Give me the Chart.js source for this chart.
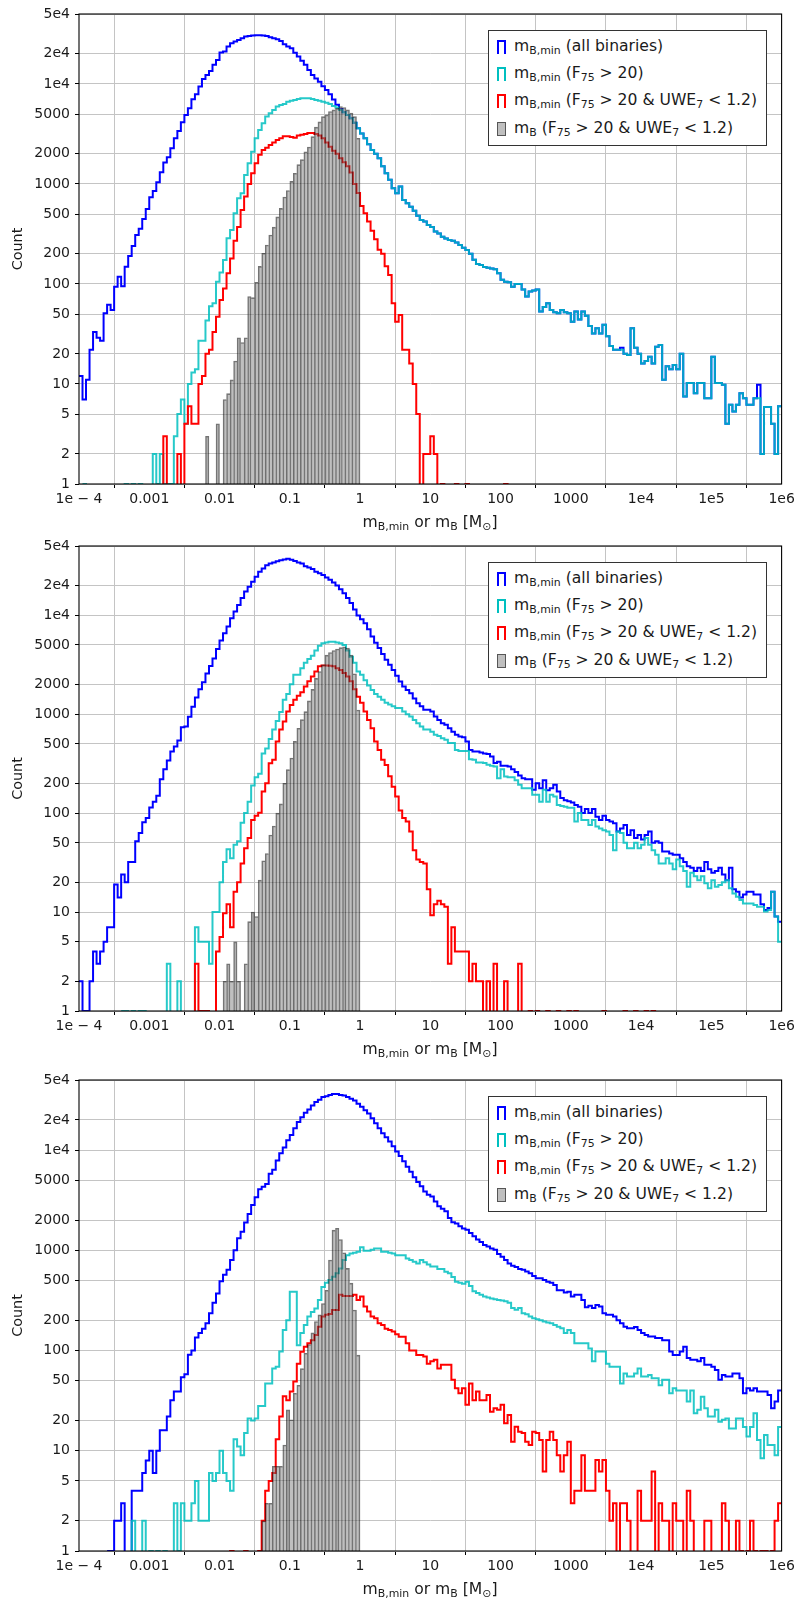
<!DOCTYPE html>
<html><head><meta charset="utf-8">
<script src="https://cdn.jsdelivr.net/npm/chart.js@4.4.1/dist/chart.umd.min.js"></script>
<style>
html,body{margin:0;padding:0;background:#fff;}
body{width:798px;height:1603px;position:relative;overflow:hidden;font-family:"DejaVu Sans",sans-serif;color:#1a1a1a;}
.panel{position:absolute;left:0;width:798px;}
.legend{position:absolute;left:488px;width:277px;height:114px;border:1px solid #333;background:#fff;font-size:15.6px;}
.row{position:absolute;left:0;width:277px;height:27px;line-height:27px;white-space:nowrap;}
.hstep{position:absolute;left:8px;top:7px;width:9px;height:14px;box-sizing:border-box;border:2px solid;border-bottom:none;}
.hbar{position:absolute;left:8px;top:7px;width:9px;height:14px;box-sizing:border-box;border:1px solid rgba(0,0,0,0.55);background:rgba(128,128,128,0.5);}
.txt{position:absolute;left:25px;top:0;}
sub{font-size:70%;vertical-align:-0.28em;line-height:0;}
.xlabel{position:absolute;left:230px;width:400px;text-align:center;font-size:15.6px;line-height:20px;}
</style></head>
<body>
<script>
const _ = null;
const X_TICKS = [1e-4, 1e-3, 0.01, 0.1, 1, 10, 100, 1000, 1e4, 1e5, 1e6];
const X_TICK_LABELS = ['1e \u2212 4','0.001','0.01','0.1','1','10','100','1000','1e4','1e5','1e6'];
const Y_TICKS = [1,2,5,10,20,50,100,200,500,1000,2000,5000,1e4,2e4,5e4];
const Y_TICK_LABELS = ['1','2','5','10','20','50','100','200','500','1000','2000','5000','1e4','2e4','5e4'];
const BIN_LOG_START = -4, BINS_PER_DECADE = 20, N_BINS = 200;
const SERIES_NAMES = [
  'm<sub>B,min</sub> (all binaries)',
  'm<sub>B,min</sub> (F<sub>75</sub> &gt; 20)',
  'm<sub>B,min</sub> (F<sub>75</sub> &gt; 20 &amp; UWE<sub>7</sub> &lt; 1.2)',
  'm<sub>B</sub> (F<sub>75</sub> &gt; 20 &amp; UWE<sub>7</sub> &lt; 1.2)'
];
const X_TITLE = 'm<sub>B,min</sub> or m<sub>B</sub> [M<sub>\u2299</sub>]';
const Y_TITLE = 'Count';

// ---------- Panel 1 ----------
const P1_BLUE = [
12,7,11,22,33,29,27,51,62,55,94,118,95,149,190,240,309,357,447,562,
736,851,1040,1309,1635,1849,2274,2862,3388,4140,4898,5711,7030,7880,9400,11220,12300,13490,15500,17380,
20570,21050,23610,25500,26500,27540,28620,29730,30200,30500,30700,30700,30500,30200,29240,28600,27990,26900,24860,23610,
22700,20500,18800,17000,15500,13800,12300,11300,10500,9500,8710,7900,7000,6200,5600,5200,4900,4540,4100,3600,
3200,2860,2500,2190,2000,1810,1500,1280,1100,905,807,940,692,640,593,540,480,437,420,389,
370,334,320,297,285,275,270,260,245,230,219,200,175,158,155,148,145,143,140,128,
110,105,104,94,100,100,88,75,84,86,88,53,59,64,55,52,51,55,52,51,
42,53,44,53,48,38,32,36,32,39,30,24,22,22,23,20,19.5,36,23,20,
16,17,18.7,16,23.6,24.5,11,15,14,15.5,14,20,7.5,10.2,10.2,8.1,10.2,10.2,7.2,7.2,
18.7,10.2,10.2,9.8,4,6.2,5.3,6.2,8.1,7.2,6.2,6.2,7.2,9.8,2,5.9,5.9,4,2,6];
const P1_CYAN = [
_,1,0,0,0,0,0,0,0,0,0,0,0,1,0,1,0,1,0,0,
0,2,1,2,1,1,1,3,5,7,4,10,13,14,27,27,43,60,64,105,
130,174,286,347,509,719,807,1230,1610,2100,2860,3470,4040,4710,5100,5500,5950,6170,6300,6650,
6800,6900,7060,7170,7170,7170,7060,6900,6800,6650,6500,6300,6000,5800,5500,5200,4900,4540,4100,3600,
3200,2860,2500,2190,2000,1810,1500,1280,1100,905,807,940,692,640,593,540,480,437,420,389,
370,334,320,297,285,275,270,260,245,230,219,200,175,158,155,148,145,143,140,128,
110,105,104,94,100,100,88,75,84,86,88,53,59,64,55,52,51,55,52,51,
42,53,44,53,48,38,32,36,32,39,30,24,22,22,22,20,19.5,36,23,20,
16,17,18.7,16,23.6,24.5,11,15,14,15.5,14,20,7.5,10.2,10.2,8.1,10.2,10.2,7.2,7.2,
18.7,10.2,10.2,9.8,4,6.2,5.3,6.2,8.1,7.2,6.2,6.2,7.2,7.2,2,5.9,5.9,4,2,6];
const P1_RED = [
_,_,_,_,_,_,_,_,_,_,_,_,_,_,_,_,_,_,_,_,
_,_,_,0,3,0,0,0,2,0,4,6,4,4,10,12,20,22,33,47,
69,90,128,180,270,370,550,750,1000,1280,1610,1960,2190,2300,2450,2600,2750,2860,3000,3000,
2950,2900,3050,3100,3150,3230,3230,3150,3050,2860,2600,2350,2150,2000,1810,1650,1500,1300,1000,810,
600,510,420,340,280,220,200,150,123,64,42,49,22,22,16,10,5,0,2,2,
3,2,0,1,0,0,0,1,0,0,1,0,0,0,0,0,0,0,0,0,
0,1,0,0,0,0,0,0,0,0,0,0,0,0,0,0,0,0,0,0,
0,0,0,0,1];
const P1_GRAY = [
_,_,_,_,_,_,_,_,_,_,_,_,_,_,_,_,_,_,_,_,
_,_,_,_,_,_,_,_,_,_,_,_,_,_,_,_,3,_,_,4,
_,7,8,11,17,29,26,29,75,73,104,150,203,245,309,370,468,570,740,860,
1060,1280,1560,1750,2100,2340,2970,3700,4170,4710,4900,5290,5500,5700,5950,5800,5500,5100,4710,2860];

// ---------- Panel 2 ----------
const P2_BLUE = [
2,1,1,2,4,3,4,5,7,7,19,14,24,20,32,32,52,63,81,89,
114,130,150,220,277,340,418,470,540,735,750,940,1190,1470,1780,2100,2580,3060,3650,4550,
5540,6560,7700,9330,10900,12700,14900,17300,19400,21800,24400,27500,29700,32000,33200,34000,35000,35800,36600,37200,
36400,35300,34000,33200,31300,30400,29200,27500,26500,25500,24000,22800,21400,20000,18300,16700,14900,13300,11400,9930,
9100,8300,7200,6100,5250,4650,4060,3540,3150,2800,2440,2140,1900,1750,1630,1440,1290,1200,1110,1110,
1060,945,870,810,780,720,665,620,595,585,530,435,418,418,410,400,395,372,320,330,
300,300,295,277,260,240,225,220,220,172,200,178,215,170,178,193,165,142,135,132,
128,121,116,100,110,100,110,92,85,94,85,82,79,65,70,76,60,67,56,60,
54,60,65,50,52,50,41,41,39,38,38,35,32,29,28,26,28,26,32,27,
25,26,28,24,21,28,17,16,14,15,16,16,15,15,12,10.5,11,16,9,8];
const P2_CYAN = [
_,_,_,_,_,_,_,_,_,_,_,_,1,1,0,1,0,1,1,0,
0,0,0,0,0,3,0,0,2,0,0,0,0,7,5,5,5,3,10,10,
20,32,43,35,48,52,80,100,130,190,230,250,400,450,560,700,850,1050,1400,1600,
2000,2500,2500,2900,3300,3600,3900,4400,4900,5200,5300,5400,5400,5300,5200,5000,4400,3800,3300,2700,
2500,2200,1950,1750,1600,1500,1400,1300,1250,1200,1150,1150,1060,1000,945,870,810,750,700,700,
665,620,600,570,550,510,510,435,425,425,425,350,345,325,325,320,308,300,295,225,
277,234,230,230,215,193,178,178,178,153,153,130,172,130,153,147,121,118,116,113,
113,82,100,85,85,76,85,73,70,67,65,60,42,65,63,50,44,44,50,44,
48,56,48,42,38,31,31,35,31,27,34,29,26,18,25,23,21,23,19.5,17.4,
21,18,18.8,20,21,17.4,15.4,14.3,13.2,12.2,12.2,12.2,11.8,11.3,11.3,10.1,10.5,16,9,5];
const P2_RED = [
_,_,_,_,_,_,_,_,_,_,_,_,_,_,_,_,_,_,_,_,
_,_,_,_,_,_,_,_,_,_,_,_,0,3,1,1,1,0,0,4,
5.6,9.7,12,7,16,20,31,44,56,85,94,101,165,200,318,345,530,700,840,1060,
1240,1400,1530,1660,1900,2150,2400,2700,3050,3100,3100,3080,3050,2900,2800,2600,2400,2150,1780,1500,
1300,1060,870,720,530,435,345,307,235,185,147,106,89,82,65,42,34,32,31,17,
9.3,12,13,12,11.3,3,7,4,4,4,4,2,3,2,2,0,2,0,3,0,
0,2,0,0,0,3,0,0,1,0,1,0,0,1,0,0,1,0,0,1,
0,1,0,0,0,0,0,0,0,1,0,0,0,0,0,1,0,0,1,0,
0,1,0,1,0,1];
const P2_GRAY = [
_,_,_,_,_,_,_,_,_,_,_,_,_,_,_,_,_,_,_,_,
_,_,_,_,_,_,_,_,_,_,_,_,_,_,_,_,_,_,_,_,
_,2,3,2,5,2,_,3,8,10,9,21,33,39,60,74,100,124,200,275,
360,530,720,880,1060,1360,1780,2300,2700,3150,3950,4200,4400,4550,4700,4800,4650,3950,2560,1100];

// ---------- Panel 3 ----------
const P3_BLUE = [
_,_,_,_,_,_,_,_,1,1,2,2,3,0,0,4,4,4,6,8,
10,6,10,16,16,22,32,39,39,54,58,91,100,135,150,165,187,235,300,370,
490,570,640,800,1000,1320,1530,1890,2300,2830,3380,4060,4300,4580,5800,6360,7880,9300,10600,12500,
14100,16500,19100,21200,23600,25400,27900,30200,31800,33800,34500,35500,36300,36300,35500,35000,33800,32500,31200,29000,
27000,25000,23200,20800,18500,16500,14700,13400,12200,10900,9700,8700,7750,6830,6060,5370,4800,4350,3870,3590,
3450,3070,2750,2600,2450,2100,1910,1850,1740,1650,1600,1490,1380,1280,1210,1130,1090,1040,1010,920,
860,800,740,700,680,650,640,615,590,555,527,527,505,485,475,450,400,400,380,385,
345,360,360,320,270,280,265,285,275,235,227,227,218,200,187,173,167,167,172,160,
150,143,138,138,133,133,127,127,98,90,90,98,109,84,81,81,78,84,72,72,
69,64,51,57,55,55,59,59,53,37.5,42,40,42,39,39,39,36,26.5,31,40];
const P3_CYAN = [
_,_,_,_,_,_,_,_,_,_,_,_,_,_,0,2,0,0,2,0,
1,0,1,0,1,0,0,3,1,3,2,2,3,5,2,2,2,6,5,6,
10,6,5,4,13,11,9,15,21,20,21,28,28,47,47,66,69,98,160,200,
385,385,113,150,180,218,243,263,320,430,475,505,545,590,660,800,890,930,945,965,
1070,990,990,1015,1040,1040,965,965,945,930,890,890,890,830,800,770,740,800,760,720,
690,690,650,650,610,590,540,485,475,465,485,440,390,375,360,345,338,330,325,320,
315,310,300,265,255,265,235,230,218,210,205,200,195,190,187,180,173,167,150,160,
150,118,118,118,118,105,78,98,98,98,74,69,69,69,47,59,55,55,59,66,
55,55,57,53,53,45,51,51,37.5,42,40,40,40,31,40,23.7,25.6,34.5,26.5,22,
22,25.6,19.5,20.4,21,16.7,16.7,21,21,17.3,13.9,17.3,23.7,12.8,8.4,14.4,11.4,11.4,9,17.3];
const P3_RED = [
_,_,_,_,_,_,_,_,_,_,_,_,_,_,_,_,_,_,_,_,
_,_,_,_,_,_,_,_,_,_,_,_,_,_,_,_,_,_,_,_,
_,_,0,1,0,0,0,1,0,0,0,1,2,4,5,6,13,22,35,32,
39,49,74,97,109,118,127,143,173,218,227,232,254,254,360,350,350,350,360,320,
345,275,245,218,210,187,180,165,160,155,145,137,137,118,100,100,90,90,87,74,
78,81,66,72,72,72,51,42,37.5,42,28.7,47,32,39,32,32,36,24.5,26.5,25.6,
28.7,18.8,22.7,12.3,17.4,15.5,15,12.3,11.4,15.5,15,12.8,6.2,12.8,15.5,12.8,9,6.2,9,12.3,
3,4,4,9,4,4,4,8.1,6.2,8.1,4,2,3,0,3,3,2,0,0,4,
2,2,2,6.2,0,3,2,2,0,3,2,2,0,4,2,0,0,0,2,2,
0,0,0,3,2,0,0,2,1,0,1,2,1,0,1,1,0,1,2,3];
const P3_GRAY = [
_,_,_,_,_,_,_,_,_,_,_,_,_,_,_,_,_,_,_,_,
_,_,_,_,_,_,_,_,_,_,_,_,_,_,_,_,_,_,_,_,
_,_,_,_,_,_,_,_,_,_,_,_,2,3,3,7,7,7,11.4,25.6,
20.4,37.5,45,66,94,115,150,195,227,295,400,800,1590,1660,1280,945,660,470,254,90];

const PANELS = [
  {top: 14, height: 470, blue: P1_BLUE, cyan: P1_CYAN, red: P1_RED, gray: P1_GRAY},
  {top: 546, height: 465, blue: P2_BLUE, cyan: P2_CYAN, red: P2_RED, gray: P2_GRAY},
  {top: 1080, height: 471, blue: P3_BLUE, cyan: P3_CYAN, red: P3_RED, gray: P3_GRAY}
];

const BIN_EDGES = [];
for (let i = 0; i <= N_BINS; i++) BIN_EDGES.push(Math.pow(10, BIN_LOG_START + i / BINS_PER_DECADE));

function stepPoints(vals) {
  const pts = [];
  const show = v => (v === 0 ? 0.5 : v);
  for (let i = 0; i < N_BINS; i++) {
    const v = vals[i] === undefined ? null : vals[i];
    pts.push({x: BIN_EDGES[i], y: v === null ? null : show(v)});
  }
  const last = vals[N_BINS - 1];
  if (last !== undefined && last !== null) pts.push({x: BIN_EDGES[N_BINS], y: show(last)});
  return pts;
}
function barPoints(vals) {
  const pts = [];
  for (let i = 0; i < N_BINS; i++) {
    const v = vals[i];
    if (v !== undefined && v !== null && v > 0) pts.push({x: Math.sqrt(BIN_EDGES[i] * BIN_EDGES[i + 1]), y: v, bin: i});
  }
  return pts;
}

const framePlugin = {
  id: 'frame',
  afterDatasetsDraw(chart) {
    const {ctx, chartArea: a} = chart;
    ctx.save();
    ctx.strokeStyle = '#000';
    ctx.lineWidth = 1.1;
    ctx.strokeRect(a.left, a.top, a.right - a.left, a.bottom - a.top);
    ctx.restore();
  }
};

const FONT = 'DejaVu Sans';
const PAD_TOP = 10, XAXIS_H = 60, YAXIS_W = 79, RIGHT_PAD = 16.4;

PANELS.forEach((p, k) => {
  const div = document.createElement('div');
  div.className = 'panel';
  div.style.top = (p.top - PAD_TOP) + 'px';
  div.style.height = (p.height + PAD_TOP + XAXIS_H) + 'px';
  const cv = document.createElement('canvas');
  cv.width = 798; cv.height = p.height + PAD_TOP + XAXIS_H;
  cv.style.width = '798px'; cv.style.height = cv.height + 'px';
  div.appendChild(cv);
  document.body.appendChild(div);

  const barBorder = (ctx) => {
    const d = ctx.dataset.data, j = ctx.dataIndex, cur = d[j];
    if (!cur) return 0;
    const prev = d[j - 1], next = d[j + 1];
    const pv = prev && prev.bin === cur.bin - 1 ? prev.y : 0;
    const nv = next && next.bin === cur.bin + 1 ? next.y : 0;
    return {top: 1, bottom: 0, left: pv <= cur.y ? 1 : 0, right: nv < cur.y ? 1 : 0};
  };

  new Chart(cv, {
    type: 'line',
    data: {
      datasets: [
        {label: 'blue', data: stepPoints(p.blue), borderColor: '#0000ff', borderWidth: 2, stepped: 'before', pointRadius: 0, order: 3, fill: false, borderJoinStyle: 'miter'},
        {label: 'cyan', data: stepPoints(p.cyan), borderColor: 'rgba(0,191,191,0.85)', borderWidth: 2, stepped: 'before', pointRadius: 0, order: 2, fill: false, borderJoinStyle: 'miter'},
        {label: 'red', data: stepPoints(p.red), borderColor: '#ff0000', borderWidth: 2, stepped: 'before', pointRadius: 0, order: 1, fill: false, borderJoinStyle: 'miter'},
        {type: 'bar', label: 'gray', data: barPoints(p.gray), backgroundColor: 'rgba(128,128,128,0.5)', borderColor: 'rgba(0,0,0,0.55)', borderWidth: barBorder, inflateAmount: 0.3, barPercentage: 1, categoryPercentage: 1, order: 0}
      ]
    },
    options: {
      responsive: false, animation: false, devicePixelRatio: 1,
      layout: {padding: {top: PAD_TOP, right: RIGHT_PAD, left: 0, bottom: 0}},
      plugins: {legend: {display: false}, tooltip: {enabled: false}},
      scales: {
        x: {
          type: 'logarithmic', min: 1e-4, max: 1e6, offset: false,
          afterBuildTicks: s => { s.ticks = X_TICKS.map(v => ({value: v})); },
          afterFit: s => { s.height = XAXIS_H; s.paddingLeft = 0; s.paddingRight = 0; },
          ticks: {autoSkip: false, maxRotation: 0, minRotation: 0, padding: 3, color: '#1a1a1a', font: {family: FONT, size: 14}, callback: (v, i) => X_TICK_LABELS[i]},
          grid: {color: '#c4c4c4', lineWidth: 1, tickColor: '#000', tickLength: 4, tickWidth: 1},
          border: {display: false}
        },
        y: {
          type: 'logarithmic', min: 1, max: 5e4,
          afterBuildTicks: s => { s.ticks = Y_TICKS.map(v => ({value: v})); },
          afterFit: s => { s.width = YAXIS_W; s.paddingTop = 0; s.paddingBottom = 0; },
          ticks: {autoSkip: false, padding: 5, color: '#1a1a1a', font: {family: FONT, size: 14}, callback: (v, i) => Y_TICK_LABELS[i]},
          grid: {color: '#c4c4c4', lineWidth: 1, tickColor: '#000', tickLength: 4, tickWidth: 1},
          border: {display: false},
          title: {display: true, text: Y_TITLE, color: '#1a1a1a', font: {family: FONT, size: 14.4}, padding: {top: 10, bottom: 0}}
        }
      }
    },
    plugins: [framePlugin]
  });

  // legend
  const lg = document.createElement('div');
  lg.className = 'legend';
  lg.style.top = (p.top + 15.5) + 'px';
  const colors = ['#0000ff', '#00bfbf', '#ff0000'];
  SERIES_NAMES.forEach((name, r) => {
    const row = document.createElement('div');
    row.className = 'row';
    row.style.top = (2.5 + 27.2 * r) + 'px';
    const h = document.createElement('span');
    if (r < 3) { h.className = 'hstep'; h.style.borderColor = colors[r]; }
    else h.className = 'hbar';
    const t = document.createElement('span');
    t.className = 'txt';
    t.innerHTML = name;
    row.appendChild(h); row.appendChild(t);
    lg.appendChild(row);
  });
  document.body.appendChild(lg);

  const xl = document.createElement('div');
  xl.className = 'xlabel';
  xl.style.top = (p.top + p.height + 28) + 'px';
  xl.innerHTML = X_TITLE;
  document.body.appendChild(xl);
});
</script>
</body></html>
